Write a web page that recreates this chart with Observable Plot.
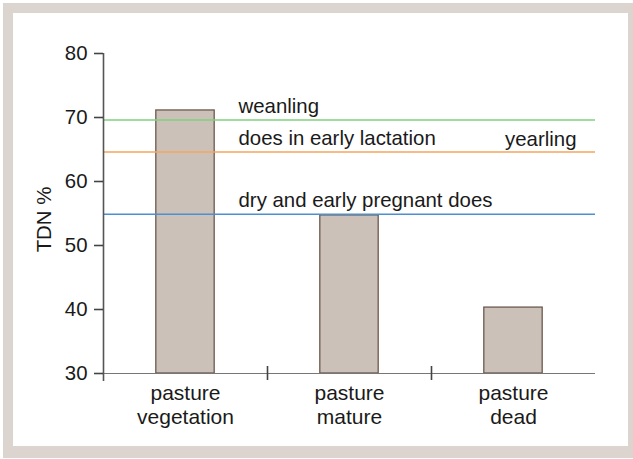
<!DOCTYPE html>
<html>
<head>
<meta charset="utf-8">
<script src="https://cdn.jsdelivr.net/npm/d3@7"></script>
<script src="https://cdn.jsdelivr.net/npm/@observablehq/plot@0.6"></script>
<style>
  html, body { margin: 0; padding: 0; background: #fff; width: 633px; height: 459px; overflow: hidden; }
  #frame { position: absolute; left: 3px; top: 3px; width: 630px; height: 455px; background: #dcd5cf; }
  #panel { position: absolute; left: 13px; top: 13px; width: 615px; height: 433px; background: #fff; }
  #chart { position: absolute; left: 0; top: 0; }
</style>
</head>
<body>
<div id="frame"></div>
<div id="panel"></div>
<div id="chart"></div>
<script>
// Data
const categories = ["pasture\nvegetation", "pasture\nmature", "pasture\ndead"];
const tdnValues = [71.1, 54.7, 40.3];
const levelNames = ["weanling", "does in early lactation", "dry and early pregnant does"];
const levelValues = [69.6, 64.6, 54.9];
const levelColors = ["#7fd07f", "#f5a65e", "#4a90d2"];
const extraLabel = "yearling"; // shares the orange level
const yTicks = [30, 40, 50, 60, 70, 80];
const yLabel = "TDN %";

const bars = categories.map((c, i) => ({c, i, v: tdnValues[i]}));
const levels = levelNames.map((n, i) => ({n, v: levelValues[i], color: levelColors[i]}));

const font = "'Liberation Sans', Arial, Helvetica, sans-serif";
const halfBar = 0.178;

const chart = Plot.plot({
  width: 633,
  height: 459,
  marginLeft: 103,
  marginRight: 38,
  marginTop: 53,
  marginBottom: 86,
  style: {fontFamily: font, fontSize: "20.4px", background: "transparent", color: "#1a1a1a", overflow: "visible"},
  x: {domain: [0, categories.length], axis: null},
  y: {domain: [30, 80], axis: null},
  marks: [
    // bars
    Plot.rectY(bars, {x1: d => d.i + 0.5 - halfBar, x2: d => d.i + 0.5 + halfBar, y1: 30, y2: "v",
      fill: "#cbc1b8", stroke: "#6b5a4d", strokeWidth: 1.3}),
    // x axis line
    Plot.ruleY([30], {x1: 0, x2: categories.length, stroke: "#777", strokeWidth: 1.2}),
    // separators between categories
    Plot.ruleX(d3.range(1, categories.length), {x: d => d, y1: 30, y2: 30, insetTop: -7, insetBottom: -7, stroke: "#444", strokeWidth: 1.6}),
    // requirement levels
    Plot.ruleY(levels, {y: "v", x1: 0, x2: categories.length, stroke: "color", strokeWidth: 1.5}),
    Plot.text(levels, {y: "v", text: "n", frameAnchor: "left", dx: 135, dy: -7, textAnchor: "start", lineAnchor: "bottom", fill: "#1a1a1a", fontSize: 20.4}),
    Plot.text([levels[1]], {y: "v", text: () => extraLabel, frameAnchor: "right", dx: -19, dy: -6, textAnchor: "end", lineAnchor: "bottom", fill: "#1a1a1a", fontSize: 20.4}),
    // y axis line
    Plot.ruleX([0], {x: d => d, y1: 80, y2: 30, insetBottom: -8, stroke: "#555", strokeWidth: 1.6}),
    // y axis ticks and labels
    Plot.axisY(yTicks, {tickSize: 9, tickPadding: 7, stroke: "#444", strokeWidth: 1.6, fontSize: 20.4, fill: "#1a1a1a", label: null}),
    // category labels
    Plot.text(bars, {x: d => d.i + 0.5, y: 30, text: "c", dy: 9, lineAnchor: "top", lineHeight: 1.15, textAnchor: "middle", fill: "#1a1a1a", fontSize: 21}),
    // y label
    Plot.text([yLabel], {text: d => d, frameAnchor: "left", dx: -59, dy: 6, rotate: -90, textAnchor: "middle", lineAnchor: "middle", fill: "#1a1a1a", fontSize: 20.4})
  ]
});
document.getElementById("chart").append(chart);
</script>
</body>
</html>
